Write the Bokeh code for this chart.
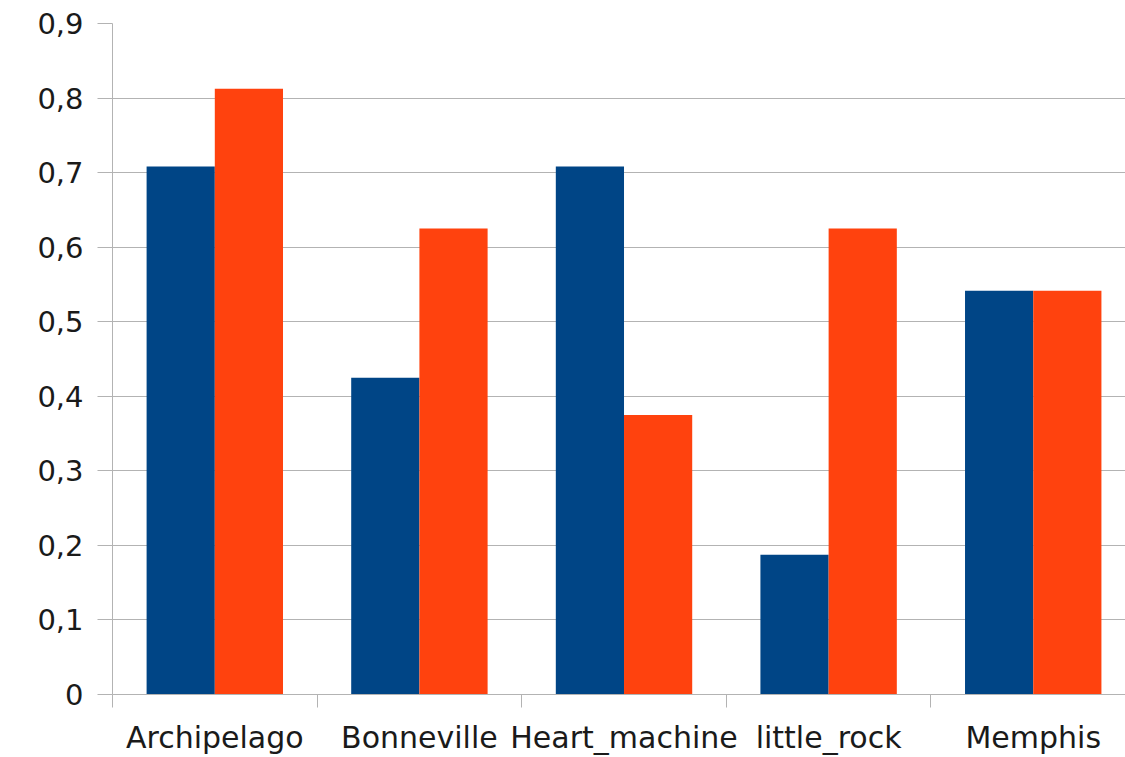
from bokeh.plotting import figure
from bokeh.models import FixedTicker, Range1d, ColumnDataSource
from bokeh.embed import file_html
from bokeh.resources import INLINE

categories = ["Archipelago", "Bonneville", "Heart_machine", "little_rock", "Memphis"]
series_a = [0.7083, 0.425, 0.7083, 0.1875, 0.5417]
series_b = [0.8125, 0.625, 0.375, 0.625, 0.5417]
y_ticks = [0, 0.1, 0.2, 0.3, 0.4, 0.5, 0.6, 0.7, 0.8, 0.9]
y_labels = ["0", "0,1", "0,2", "0,3", "0,4", "0,5", "0,6", "0,7", "0,8", "0,9"]

BLUE = "#004586"
ORANGE = "#ff420e"
GRID = "#b3b3b3"
FONT = "DejaVu Sans"

n = len(categories)
centers = [i + 0.5 for i in range(n)]
bw = 1.0 / 3.0
src = ColumnDataSource(dict(
    xa=[c - bw / 2 for c in centers],
    xb=[c + bw / 2 for c in centers],
    a=series_a, b=series_b))

p = figure(width=1125, height=757, output_backend="svg", toolbar_location=None,
           x_range=Range1d(0, 4.951), y_range=Range1d(0, 0.9),
           min_border_left=112, min_border_right=0, min_border_top=23, min_border_bottom=63)
p.outline_line_color = None
p.background_fill_color = "white"
p.border_fill_color = "white"

p.vbar(x="xa", top="a", width=bw, bottom=0, source=src, fill_color=BLUE, line_color=None)
p.vbar(x="xb", top="b", width=bw, bottom=0, source=src, fill_color=ORANGE, line_color=None)

# x axis
xa = p.xaxis[0]
xa.ticker = FixedTicker(ticks=centers, minor_ticks=list(range(n + 1)))
xa.major_label_overrides = {c: lab for c, lab in zip(centers, categories)}
xa.major_tick_out = 0
xa.major_tick_in = 0
xa.minor_tick_out = 13
xa.minor_tick_in = 0
xa.minor_tick_line_color = GRID
xa.axis_line_color = GRID
xa.major_label_standoff = 12
xa.major_label_text_font = FONT
xa.major_label_text_font_size = "30px"
xa.major_label_text_color = "#1a1a1a"

# y axis
ya = p.yaxis[0]
ya.ticker = FixedTicker(ticks=y_ticks)
ya.major_label_overrides = {t: l for t, l in zip(y_ticks, y_labels)}
ya.major_tick_out = 15
ya.major_tick_in = 0
ya.major_tick_line_color = GRID
ya.minor_tick_line_color = None
ya.axis_line_color = GRID
ya.major_label_standoff = 14
ya.major_label_text_font = FONT
ya.major_label_text_font_size = "29px"
ya.major_label_text_color = "#1a1a1a"

p.xgrid.grid_line_color = None
p.ygrid.grid_line_color = GRID
p.ygrid.grid_line_width = 1
p.ygrid.ticker = FixedTicker(ticks=y_ticks)

open("out.html", "w").write(file_html(p, INLINE))
